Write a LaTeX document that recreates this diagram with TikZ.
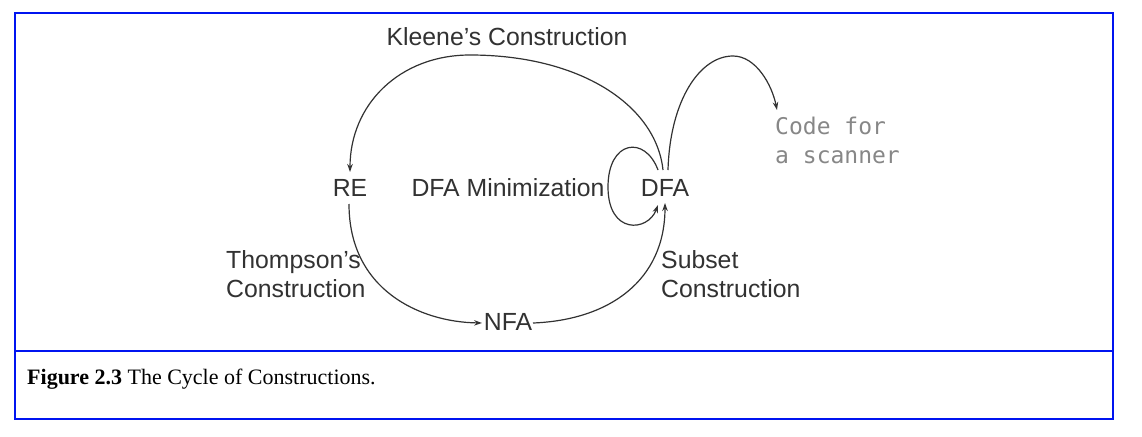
\documentclass[tikz,border=0pt]{standalone}
\usepackage{fontspec}
\setmainfont{Liberation Serif}
\setsansfont{Liberation Sans}
\setmonofont{DejaVu Sans Mono}
\usetikzlibrary{arrows.meta}
\definecolor{frameblue}{RGB}{0,20,240}
\definecolor{ink}{RGB}{50,50,50}
\definecolor{codegrey}{RGB}{135,135,135}
\begin{document}
\begin{tikzpicture}[x=1pt,y=-1pt,
  lbl/.style={inner sep=0pt,text=ink,font=\sffamily\fontsize{24.8}{29}\selectfont},
  codelbl/.style={inner sep=0pt,text=codegrey,align=left,font=\ttfamily\fontsize{23}{29}\selectfont},
  captxt/.style={inner sep=0pt,anchor=base west,font=\fontsize{22}{26}\selectfont},
  conn/.style={draw=ink,line width=1.2pt,-{Stealth[length=8pt,width=5.5pt]}}]
\useasboundingbox (0,0) rectangle (1142,436);
\fill[white] (0,0) rectangle (1142,436);
\draw[frameblue,line width=2pt] (15,13) rectangle (1112.5,418.5);
\draw[frameblue,line width=2pt] (15,351) -- (1112.5,351);

\node[lbl] (kleene) at (507,37) {Kleene's Construction};
\node[lbl] (re) at (350,188) {RE};
\node[lbl] (min) at (508,188) {DFA Minimization};
\node[lbl] (dfa) at (665,188) {DFA};
\node[lbl] (nfa) at (508,322) {NFA};
\node[lbl,anchor=north west,align=left] (thomp) at (226,250) {Thompson's\\Construction};
\node[lbl,anchor=north west,align=left] (subset) at (661,250) {Subset\\Construction};
\node[codelbl,anchor=north west] (code) at (775,117) {Code for\\a scanner};

\coordinate (dfatop) at (663,170);
\coordinate (dfatop2) at (668,170);
\coordinate (dfaloopa) at (658,170);
\coordinate (dfaloopb) at (658,205);
\coordinate (dfabot) at (665,203);
\coordinate (retop) at (350,172);
\coordinate (rebot) at (349,204);
\coordinate (nfaleft) at (482,323);
\coordinate (nfaright) at (533,323);
\coordinate (codein) at (777,110);

% Kleene's construction: DFA -> RE
\draw[conn] (dfatop) .. controls (656,105) and (580,55) .. (470,55)
  .. controls (400,55) and (350,104) .. (retop);
% DFA -> code
\draw[conn] (dfatop2) .. controls (670,100) and (700,56) .. (733,56)
  .. controls (756,56) and (772,85) .. (codein);
% DFA minimization self loop
\draw[conn] (dfaloopa) .. controls (645,135) and (608,140) .. (608,187)
  .. controls (608,235) and (648,232) .. (dfaloopb);
% Thompson: RE -> NFA
\draw[conn] (rebot) .. controls (349,290) and (420,322) .. (nfaleft);
% Subset: NFA -> DFA
\draw[conn] (nfaright) .. controls (610,320) and (665,280) .. (dfabot);

\node[captxt] (caption) at (27,384) {\textbf{Figure 2.3} The Cycle of Constructions.};
\end{tikzpicture}
\end{document}
